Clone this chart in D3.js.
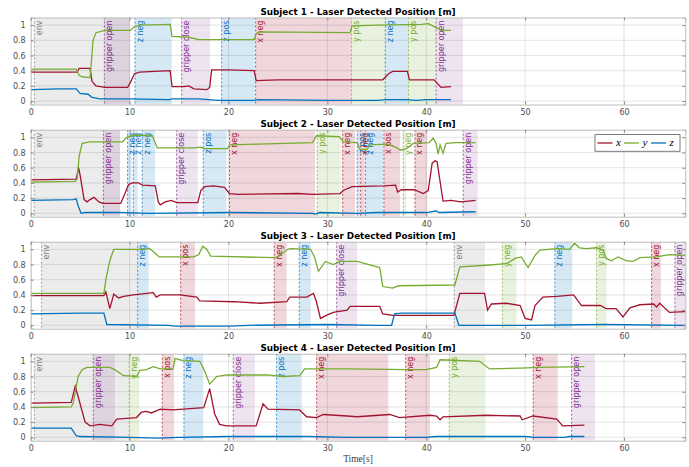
<!DOCTYPE html>
<html>
<head>
<meta charset="utf-8">
<script src="https://cdn.jsdelivr.net/npm/d3@7"></script>
<style>
body { margin: 0; background: #fff; }
text { font-family: "DejaVu Sans", sans-serif; }
</style>
</head>
<body>
<div id="chart"></div>
<script>
// ---- data ----
var subjects = ["Subject 1", "Subject 2", "Subject 3", "Subject 4"];
var xTicks = [0, 10, 20, 30, 40, 50, 60];
var yTicks = [0, 0.2, 0.4, 0.6, 0.8, 1];
var seriesNames = ["x", "y", "z"];

// [time, value] per subject
var s1x = [[0,0.38],[4.7,0.38],[4.9,0.43],[6.0,0.43],[6.2,0.26],[6.6,0.2],[7.5,0.18],[9.8,0.18],[10.1,0.25],[10.5,0.36],[11,0.38],[14.1,0.4],[14.3,0.19],[15.5,0.19],[16,0.2],[16.5,0.16],[17.8,0.15],[18.1,0.18],[18.3,0.41],[20,0.41],[22.6,0.4],[22.8,0.27],[25,0.28],[35.6,0.28],[36.2,0.36],[36.6,0.39],[38.1,0.39],[38.3,0.28],[40.8,0.28],[41.5,0.18],[42.5,0.19]];
var s1y = [[0,0.42],[4.6,0.42],[4.9,0.34],[5.2,0.32],[6.0,0.31],[6.1,0.45],[6.3,0.8],[6.6,0.9],[7.5,0.93],[10.1,0.93],[10.4,0.97],[11,1.0],[14.1,1.01],[14.3,0.85],[16,0.84],[17,0.81],[22.6,0.81],[22.8,0.89],[23.2,0.91],[32.3,0.9],[32.5,0.99],[35,1.0],[39.5,1.01],[40.2,1.02],[41.1,0.96],[41.5,0.93],[42.5,0.93]];
var s1z = [[0,0.15],[3,0.16],[4.6,0.16],[5.0,0.1],[5.8,0.09],[6.2,0.05],[7,0.03],[10,0.03],[14,0.02],[14.3,0.03],[17,0.03],[19,0.01],[22.6,0.01],[23,0.02],[30,0.01],[35,0.01],[36,0.02],[38,0.02],[39,0.01],[40,0.02],[42.5,0.02]];

var s2x = [[0,0.44],[4.6,0.45],[4.85,0.6],[5.0,0.5],[5.4,0.18],[5.7,0.15],[6.0,0.18],[6.4,0.21],[6.9,0.15],[7.3,0.13],[9.1,0.13],[9.5,0.25],[9.9,0.38],[10.3,0.4],[10.9,0.4],[11.3,0.37],[12.6,0.36],[12.9,0.15],[13.1,0.11],[13.6,0.15],[14.2,0.17],[14.8,0.14],[16.9,0.14],[17.2,0.3],[17.6,0.35],[18.5,0.36],[19.6,0.34],[20.1,0.26],[21,0.25],[27,0.26],[28.5,0.25],[31.3,0.26],[31.6,0.3],[32.5,0.35],[35.7,0.36],[36.9,0.37],[37.1,0.28],[37.5,0.31],[38.8,0.31],[39.7,0.26],[40.2,0.3],[40.6,0.66],[40.9,0.69],[41.1,0.68],[41.7,0.16],[42.5,0.17],[43.5,0.15],[45,0.17]];
var s2y = [[0,0.41],[4.5,0.42],[4.7,0.45],[4.9,0.75],[5.2,0.92],[6,0.94],[9.3,0.94],[9.7,1.0],[10.5,1.03],[12.3,1.02],[12.8,0.86],[16.5,0.86],[17.2,0.87],[17.5,0.85],[19.9,0.85],[20.1,0.9],[23,0.91],[28.5,0.93],[28.9,1.02],[31.2,1.01],[31.6,0.94],[33.0,0.93],[33.3,0.84],[34.0,0.84],[34.3,0.9],[36,0.91],[36.9,0.87],[37.4,0.83],[38.0,0.85],[38.7,0.92],[40.3,0.93],[40.7,0.99],[41.0,0.92],[41.2,0.78],[41.4,0.9],[41.7,0.79],[42.0,0.92],[43,0.93],[45,0.93]];
var s2z = [[0,0.17],[4.3,0.18],[4.6,0.19],[4.8,0.1],[5.1,0.0],[5.5,0.01],[9,0.01],[12,0.0],[20,0.01],[28.5,0.0],[28.8,-0.01],[29.2,0.01],[33,0.0],[35,0.01],[40,0.01],[41,0.03],[41.3,0.01],[45,0.02]];

var s3x = [[0,0.39],[7.4,0.39],[7.6,0.44],[8.0,0.22],[8.4,0.41],[8.9,0.36],[9.4,0.38],[10.4,0.4],[11.7,0.42],[12.4,0.43],[12.7,0.37],[13.1,0.4],[15.1,0.4],[16.8,0.37],[17.1,0.32],[20.5,0.31],[23.2,0.29],[25.9,0.31],[26.2,0.37],[27.9,0.37],[28.6,0.42],[28.9,0.31],[29.3,0.09],[29.9,0.13],[30.6,0.17],[32.0,0.2],[32.3,0.25],[35.3,0.25],[35.6,0.15],[36.6,0.13],[42.8,0.13],[43.4,0.42],[45.9,0.42],[46.2,0.2],[46.6,0.28],[48.1,0.29],[49.5,0.26],[50.0,0.09],[50.65,0.07],[51.0,0.26],[51.8,0.37],[53.2,0.38],[54.9,0.4],[55.7,0.26],[57.6,0.26],[58.2,0.22],[59.2,0.22],[59.9,0.11],[60.6,0.23],[61.6,0.27],[63.0,0.28],[63.3,0.24],[63.6,0.29],[64.6,0.17],[66.2,0.18]];
var s3y = [[0,0.42],[7.4,0.42],[7.6,0.6],[8.0,0.85],[8.4,1.0],[11.5,1.0],[12.0,1.01],[12.3,0.98],[13.0,0.9],[16.5,0.9],[17.0,0.93],[17.4,1.04],[17.8,1.0],[18.2,0.91],[24.6,0.89],[25.0,0.9],[26.0,1.0],[26.3,1.01],[28.3,1.0],[28.7,0.9],[29.1,0.71],[29.8,0.84],[30.6,0.8],[31.3,0.84],[33,0.84],[35.3,0.76],[35.6,0.51],[36.6,0.49],[37.2,0.52],[42.9,0.53],[43.4,0.77],[46.1,0.79],[48.1,0.81],[49.0,0.88],[49.6,0.9],[50.3,0.76],[51.0,0.92],[51.5,0.99],[53.2,1.01],[54.5,1.0],[55.0,1.08],[55.5,1.02],[56.2,1.01],[57.2,1.02],[57.9,0.99],[58.2,0.88],[58.7,0.85],[59.4,0.9],[60.2,0.85],[60.9,0.84],[61.6,0.89],[63.3,0.9],[64.6,0.93],[66.2,0.92]];
var s3z = [[0,0.15],[5,0.16],[7.4,0.16],[7.7,0.01],[14,0.0],[14.5,-0.01],[20,-0.01],[22,0.0],[30,0.01],[35,0.0],[36.5,0.0],[36.8,0.15],[37.5,0.16],[42.9,0.16],[43.3,0.0],[50,0.0],[58,0.01],[66.2,0.0]];

var s4x = [[0,0.45],[4.1,0.46],[4.5,0.67],[4.85,0.51],[5.5,0.2],[6.0,0.15],[7.0,0.17],[8.2,0.15],[8.7,0.24],[9.7,0.25],[10.7,0.26],[11.2,0.33],[11.7,0.34],[12.2,0.32],[13.1,0.37],[14.4,0.36],[15.4,0.37],[17.5,0.39],[18.1,0.64],[18.6,0.31],[19.1,0.17],[19.8,0.15],[22.8,0.15],[23.5,0.44],[24.0,0.37],[27.2,0.36],[27.9,0.27],[28.9,0.26],[29.6,0.3],[32,0.28],[33,0.27],[36.3,0.3],[37.3,0.26],[40.4,0.29],[41.05,0.28],[41.4,0.23],[41.7,0.27],[46.1,0.29],[49.5,0.28],[49.7,0.23],[50.8,0.28],[53.2,0.24],[53.8,0.15],[56,0.16]];
var s4y = [[0,0.39],[4.1,0.4],[4.3,0.45],[4.8,0.8],[5.2,0.89],[5.7,0.92],[8.0,0.92],[8.5,0.89],[9.4,0.81],[10.7,0.8],[11.05,0.88],[11.7,0.89],[12.4,0.93],[13.1,0.9],[14.4,0.9],[14.6,1.04],[15.4,1.01],[17.1,1.0],[17.5,0.9],[18.1,0.7],[18.8,0.8],[19.8,0.82],[23.9,0.82],[25.5,0.8],[27.2,0.81],[27.7,0.9],[32,0.9],[38,0.89],[40,0.89],[41.05,0.92],[41.4,1.02],[45.4,1.0],[46.4,0.9],[49.5,0.91],[51.5,0.92],[56,0.93]];
var s4z = [[0,0.12],[4.1,0.12],[4.3,0.08],[4.6,0.02],[5,0.01],[10,0.0],[13,-0.01],[15,0.0],[20,0.01],[28,0.01],[32,0.0],[40,0.0],[41,0.01],[50,0.01],[51,0.0],[54,0.0],[54.5,0.01],[56,0.01]];

// events: [label, start, end]
var s1events = [["env",0.37,10.04],["gripper open",7.45,10.04],["z neg",10.55,14.26],["gripper close",15.27,18.13],["z pos",19.31,22.68],["x neg",22.75,32.45],["y pos",32.45,35.86],["z neg",35.86,38.2],["y pos",38.2,41.0],["gripper open",41.0,43.7]];
var s2events = [["env",0.35,9.03],["gripper open",7.35,9.03],["z neg",9.8,10.2],["z neg",10.38,10.8],["z neg",11.28,12.57],["gripper close",14.76,16.9],["z pos",17.45,19.8],["x neg",20.1,28.75],["y pos",28.98,31.35],["x neg",31.55,32.8],["z pos",33.03,33.3],["x neg",33.37,33.8],["z neg",33.87,35.65],["x pos",35.72,37.34],["y neg",37.68,37.95],["x neg",38.86,40.1],["gripper open",43.74,45.2]];
var s3events = [["env",1.1,10.82],["z neg",10.82,11.93],["x pos",15.17,16.61],["x neg",24.63,25.88],["z neg",27.16,28.31],["gripper close",30.94,33.02],["env",42.83,45.94],["y neg",47.69,49.14],["z neg",53.01,54.76],["y pos",57.23,58.24],["x neg",62.79,63.73],["gripper open",65.15,67]];
var s4events = [["env",0.37,9.97],["gripper open",6.33,8.52],["y neg",9.97,10.98],["x pos",13.31,14.49],["z neg",15.5,17.45],["gripper close",20.49,22.68],["z pos",24.87,27.4],["x neg",28.92,36.16],["x neg",37.92,40.37],["y pos",42.33,46.0],["x neg",50.82,53.29],["gripper open",54.7,57.06]];

var allSeries = [[s1x, s1y, s1z], [s2x, s2y, s2z], [s3x, s3y, s3z], [s4x, s4y, s4z]];
var allEvents = [s1events, s2events, s3events, s4events];

// ---- layout ----
var width = 689, height = 467;
var panelTop = [17.5, 129.7, 241.7, 353.7];
var panelH = 87;
var lineColor = { x: "#A2142F", y: "#77AC30", z: "#0072BD" };
var eventColor = { x: "#A2142F", y: "#77AC30", z: "#0072BD", g: "#7E2F8E", e: "#7f7f7f" };
var eventAlpha = { x: 0.17, y: 0.16, z: 0.16, g: 0.13, e: 0.15 };

var x = d3.scaleLinear().domain([0, 66.2]).range([30.7, 685.3]);
var y = d3.scaleLinear().domain([-0.045, 1.1]).range([panelH, 0]);

var svg = d3.select("#chart")
    .append("svg")
    .attr("width", width)
    .attr("height", height);

var line = d3.line()
    .x(d => x(d[0]))
    .y(d => y(d[1]));

subjects.forEach(function (name, i) {
    var g = svg.append("g").attr("transform", `translate(0,${panelTop[i]})`);

    g.append("clipPath").attr("id", "clip" + i)
        .append("rect")
        .attr("x", x.range()[0]).attr("y", 0)
        .attr("width", x.range()[1] - x.range()[0]).attr("height", panelH);

    var plot = g.append("g").attr("clip-path", `url(#clip${i})`);

    // shaded intervals
    plot.selectAll("rect.ev")
        .data(allEvents[i])
        .enter()
        .append("rect")
        .attr("class", "ev")
        .attr("x", d => x(d[1]))
        .attr("y", 0)
        .attr("width", d => x(d[2]) - x(d[1]))
        .attr("height", panelH)
        .style("fill", d => eventColor[d[0][0]])
        .style("fill-opacity", d => eventAlpha[d[0][0]]);

    // grid
    plot.selectAll("line.gx")
        .data(xTicks)
        .enter()
        .append("line")
        .attr("x1", d => x(d)).attr("x2", d => x(d))
        .attr("y1", 0).attr("y2", panelH)
        .style("stroke", "#262626").style("stroke-opacity", 0.12);
    plot.selectAll("line.gy")
        .data(yTicks)
        .enter()
        .append("line")
        .attr("x1", x.range()[0]).attr("x2", x.range()[1])
        .attr("y1", d => y(d)).attr("y2", d => y(d))
        .style("stroke", "#262626").style("stroke-opacity", 0.12);

    // event start markers + labels
    plot.selectAll("line.ev")
        .data(allEvents[i])
        .enter()
        .append("line")
        .attr("x1", d => x(d[1])).attr("x2", d => x(d[1]))
        .attr("y1", 0).attr("y2", panelH)
        .style("stroke", d => eventColor[d[0][0]])
        .style("stroke-width", 0.9)
        .style("stroke-opacity", 0.85)
        .style("stroke-dasharray", "2,2");

    plot.selectAll("text.ev")
        .data(allEvents[i])
        .enter()
        .append("text")
        .attr("transform", d => `translate(${x(d[1]) + 7.5},3) rotate(-90)`)
        .attr("text-anchor", "end")
        .attr("font-size", "8px")
        .style("fill", d => eventColor[d[0][0]])
        .text(d => d[0]);

    // series
    allSeries[i].forEach(function (s, k) {
        plot.append("path")
            .datum(s)
            .attr("d", line)
            .style("fill", "none")
            .style("stroke", lineColor[seriesNames[k]])
            .style("stroke-width", 1.3);
    });

    // axes (ticks inward on all four sides)
    g.append("g").attr("transform", `translate(0,${panelH})`)
        .call(d3.axisBottom(x).tickValues(xTicks).tickSize(-3).tickPadding(5));
    g.append("g").attr("transform", `translate(${x.range()[0]},0)`)
        .call(d3.axisLeft(y).tickValues(yTicks).tickSize(-3).tickPadding(5).tickFormat(d3.format("~g")));
    g.append("g").call(d3.axisTop(x).tickValues(xTicks).tickSize(-3).tickFormat(""));
    g.append("g").attr("transform", `translate(${x.range()[1]},0)`)
        .call(d3.axisRight(y).tickValues(yTicks).tickSize(-3).tickFormat(""));
    g.selectAll(".domain").style("stroke", "#bdbdbd");
    g.selectAll(".tick line").style("stroke", "#8a8a8a");
    g.selectAll(".tick text")
        .style("font-family", "DejaVu Sans")
        .style("font-size", "8px")
        .style("fill", "#4d4d4d");

    g.append("text")
        .attr("x", (x.range()[0] + x.range()[1]) / 2)
        .attr("y", -3)
        .attr("text-anchor", "middle")
        .attr("font-size", "8.8px")
        .attr("font-weight", "bold")
        .style("fill", "#000")
        .text(name + " - Laser Detected Position [m]");
});

// legend in panel 2
var leg = svg.append("g").attr("transform", `translate(595,${panelTop[1] + 5})`);
leg.append("rect")
    .attr("width", 85).attr("height", 16.5)
    .style("fill", "#fff").style("stroke", "#262626").style("stroke-width", 0.6);
var legX = [2.5, 29, 56];
seriesNames.forEach(function (n, k) {
    leg.append("line")
        .attr("x1", legX[k]).attr("x2", legX[k] + 15)
        .attr("y1", 8.3).attr("y2", 8.3)
        .style("stroke", lineColor[n]).style("stroke-width", 1.3);
    leg.append("text")
        .attr("x", legX[k] + 18.5).attr("y", 11.5)
        .style("font-family", "Liberation Serif")
        .style("font-style", "italic")
        .style("font-size", "11px")
        .style("fill", "#000")
        .text(n);
});

svg.append("text")
    .attr("x", 358).attr("y", 462)
    .attr("text-anchor", "middle")
    .style("font-family", "Liberation Serif")
    .style("font-size", "9.5px")
    .style("fill", "#404040")
    .text("Time[s]");
</script>
</body>
</html>
